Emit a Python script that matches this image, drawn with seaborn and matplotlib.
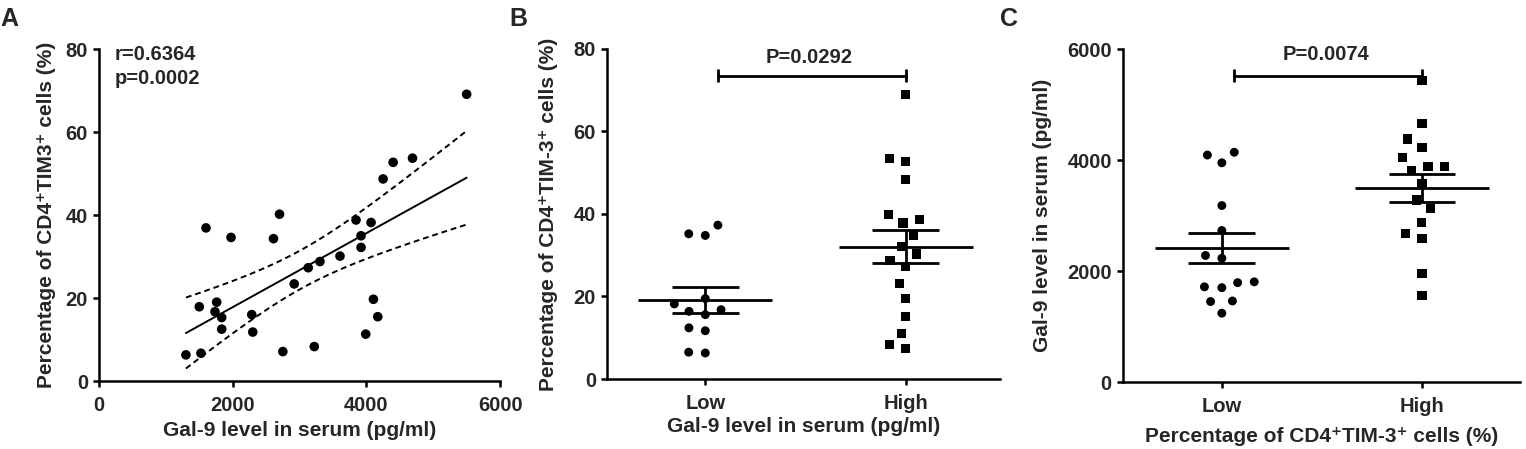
import numpy as np
import matplotlib
matplotlib.use("Agg")
import matplotlib.pyplot as plt
import pandas as pd
import seaborn as sns

# panel A: Gal-9 (pg/ml) vs % CD4+TIM3+ cells
gal9_a = [5500, 4690, 4400, 4250, 2700, 1600, 1975, 2610, 3845, 4070,
          3920, 3920, 3605, 3305, 3130, 2920, 4105, 4170, 3990, 3220,
          2750, 2300, 2285, 1500, 1760, 1735, 1835, 1835, 1300, 1525]
tim3_a = [69.1, 53.7, 52.7, 48.7, 40.2, 36.9, 34.6, 34.3, 38.8, 38.2,
          35.0, 32.2, 30.1, 28.8, 27.3, 23.4, 19.7, 15.5, 11.3, 8.3,
          7.1, 11.8, 16.0, 17.9, 19.0, 16.7, 15.3, 12.5, 6.3, 6.7]

groups = ["Low", "High"]

# panel B: % CD4+TIM-3+ cells by Gal-9 group
tim3_low = [35.2, 34.8, 37.3, 19.5, 18.2, 16.4, 16.8, 15.6, 12.4, 11.7, 6.3, 6.5]
tim3_high = [68.9, 53.5, 52.7, 48.4, 38.6, 37.8, 39.8, 34.8, 32.1, 30.3,
             28.7, 27.3, 23.2, 19.6, 15.2, 11.1, 7.3, 8.3]

# panel C: Gal-9 by CD4+TIM-3+ group
gal9_low = [4090, 4140, 3950, 3180, 2730, 2230, 2280, 1790, 1715, 1700,
            1805, 1460, 1450, 1240]
gal9_high = [5430, 4660, 4380, 4230, 4050, 3890, 3810, 3890, 3580, 3280,
             3120, 2880, 2680, 2590, 1960, 1555]

sns.set_style("ticks")
plt.rcParams['font.family'] = ['Liberation Sans', 'DejaVu Sans']
plt.rcParams['font.weight'] = 'bold'

FS = 14.5   # ticks and annotations
FL = 15     # axis labels

fig = plt.figure(figsize=(15.26, 4.49), dpi=100)
ax_a = fig.add_axes([0.0649, 0.1514, 0.2628, 0.7394])
ax_b = fig.add_axes([0.3978, 0.1559, 0.2575, 0.7350])
ax_c = fig.add_axes([0.7359, 0.1492, 0.2602, 0.7416])


def style_axis(ax):
    sns.despine(ax=ax)
    for side in ["left", "bottom"]:
        ax.spines[side].set_linewidth(1.8)
        ax.spines[side].set_color("black")
    ax.tick_params(width=1.8, length=4, color="black", labelsize=FS,
                   direction="out", pad=4)
    ax.tick_params(axis="x", pad=7)


# ---- A
x = np.array(gal9_a, dtype=float)
y = np.array(tim3_a, dtype=float)
sns.scatterplot(x=x, y=y, color="black", s=48, edgecolor="none", ax=ax_a)
slope, intercept = np.polyfit(x, y, 1)
xs = np.linspace(x.min(), x.max(), 100)
fit = slope * xs + intercept
n = len(x)
resid = y - (slope * x + intercept)
s_err = np.sqrt(np.sum(resid ** 2) / (n - 2))
ci = 2.048 * s_err * np.sqrt(1 / n + (xs - x.mean()) ** 2 / np.sum((x - x.mean()) ** 2))
ax_a.plot(xs, fit, color="black", lw=1.4)
ax_a.plot(xs, fit + ci, color="black", lw=1.4, ls=(0, (3, 2)))
ax_a.plot(xs, fit - ci, color="black", lw=1.4, ls=(0, (3, 2)))
ax_a.set_xlim(0, 6000)
ax_a.set_ylim(0, 80)
ax_a.set_xticks([0, 2000, 4000, 6000])
ax_a.set_yticks([0, 20, 40, 60, 80])
ax_a.text(240, 78.6, "r=0.6364", fontsize=FS, fontweight="bold", va="center")
ax_a.text(240, 73.0, "p=0.0002", fontsize=FS, fontweight="bold", va="center")
ax_a.set_xlabel("Gal-9 level in serum (pg/ml)", fontsize=FL, fontweight="bold", labelpad=4)
ax_a.set_ylabel("Percentage of CD4\u207aTIM3\u207a cells (%)", fontsize=FL,
                fontweight="bold", labelpad=7)
style_axis(ax_a)


def dot_panel(ax, low, high, pval, bar_y, tick_h, txt_y):
    df = pd.DataFrame({
        "group": ["Low"] * len(low) + ["High"] * len(high),
        "value": low + high,
    })
    sns.swarmplot(data=df[df.group == "Low"], x="group", y="value", order=groups,
                  color="black", marker="o", size=6.4, linewidth=5.0, ax=ax)
    sns.swarmplot(data=df[df.group == "High"], x="group", y="value", order=groups,
                  color="black", marker="s", size=6.6, linewidth=5.0, ax=ax)
    for coll in ax.collections:
        coll.set_edgecolor("none")
    stats = df.groupby("group")["value"].agg(["mean", "sem"])
    for i, g in enumerate(groups):
        m, se = stats.loc[g, "mean"], stats.loc[g, "sem"]
        ax.hlines(m, i - 0.335, i + 0.335, color="black", lw=2.0, zorder=4)
        ax.hlines([m - se, m + se], i - 0.167, i + 0.167, color="black", lw=2.0, zorder=4)
        ax.vlines(i, m - se, m + se, color="black", lw=2.0, zorder=4)
    ax.plot([0.062, 1.0], [bar_y, bar_y], color="black", lw=2.0)
    ax.vlines([0.062, 1.0], bar_y - tick_h, bar_y + tick_h, color="black", lw=2.0)
    ax.text(0.52, txt_y, pval, fontsize=FS, fontweight="bold", ha="center", va="center")
    ax.set_xlim(-0.49, 1.47)


# ---- B
dot_panel(ax_b, tim3_low, tim3_high, "P=0.0292", 73.5, 1.6, 78.0)
ax_b.set_ylim(0, 80)
ax_b.set_yticks([0, 20, 40, 60, 80])
ax_b.set_xlabel("Gal-9 level in serum (pg/ml)", fontsize=FL, fontweight="bold", labelpad=3)
ax_b.set_ylabel("Percentage of CD4\u207aTIM-3\u207a cells (%)", fontsize=FL,
                fontweight="bold", labelpad=11)
style_axis(ax_b)

# ---- C
dot_panel(ax_c, gal9_low, gal9_high, "P=0.0074", 5520, 120, 5900)
ax_c.set_ylim(0, 6000)
ax_c.set_yticks([0, 2000, 4000, 6000])
ax_c.set_xlim(-0.494, 1.49)
ax_c.set_xlabel("Percentage of CD4\u207aTIM-3\u207a cells (%)", fontsize=FL,
                fontweight="bold", labelpad=8)
ax_c.set_ylabel("Gal-9 level in serum (pg/ml)", fontsize=FL, fontweight="bold", labelpad=11)
style_axis(ax_c)

for lbl, xpos in [("A", 0.0), ("B", 0.334), ("C", 0.655)]:
    fig.text(xpos, 0.985, lbl, fontsize=18, fontweight="bold", va="top", ha="left")

fig.canvas.draw()
for ax in (ax_a, ax_b, ax_c):
    plt.setp(ax.get_xticklabels() + ax.get_yticklabels(), fontweight="bold")

fig.savefig("out.png", dpi=100)
